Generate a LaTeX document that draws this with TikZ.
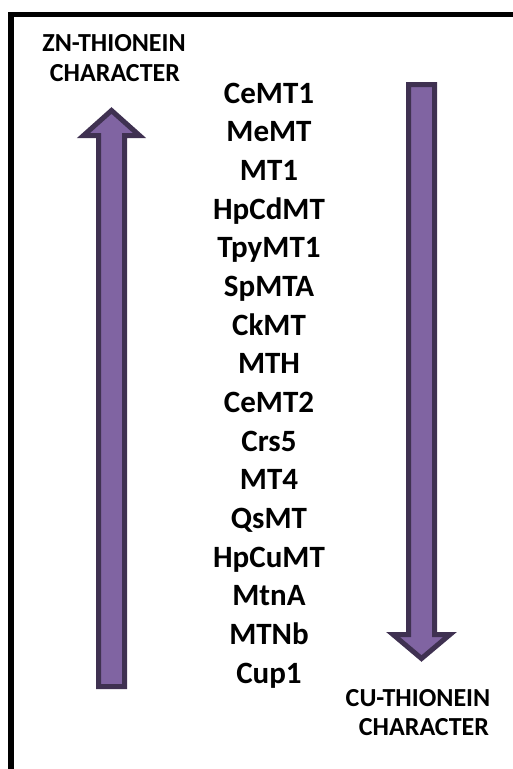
\documentclass[tikz,border=0pt]{standalone}
\usepackage{fontspec}
\setmainfont{Carlito}
\definecolor{arrowfill}{HTML}{8064A2}
\definecolor{arrowline}{HTML}{3F3151}
\begin{document}
\begin{tikzpicture}[x=1pt,y=-1pt,
  bigarrow/.style={fill=arrowfill,draw=arrowline,line width=5pt,line join=miter},
  item/.style={anchor=base,font=\bfseries\fontsize{31}{31}\selectfont,inner sep=0pt},
  caption/.style={anchor=base,font=\bfseries\fontsize{26}{26}\selectfont,inner sep=0pt}]
\useasboundingbox (0,0) rectangle (513,769);
% frame: top and left edges only
\draw[line width=5.5pt] (11,769) -- (11,14.5) -- (513,14.5);
% upward arrow (zinc character)
\draw[bigarrow] (98.5,686.5) -- (98.5,135.5) -- (83.5,135.5) -- (111.5,110.5)
  -- (139.5,135.5) -- (124.5,135.5) -- (124.5,686.5) -- cycle;
% downward arrow (copper character)
\draw[bigarrow] (408.5,84.5) -- (434.5,84.5) -- (434.5,634.5) -- (450,634.5)
  -- (421.5,658.5) -- (393,634.5) -- (408.5,634.5) -- cycle;
% metallothionein list
\foreach \name [count=\i from 0] in {CeMT1,MeMT,MT1,HpCdMT,TpyMT1,SpMTA,CkMT,MTH,CeMT2,Crs5,MT4,QsMT,HpCuMT,MtnA,MTNb,Cup1}
  \node[item] (m\i) at (269,{103+38.67*\i}) {\name};
% end labels
\node[caption] (zn1) at (114,51.5) {ZN-THIONEIN};
\node[caption] (zn2) at (115,81.7) {CHARACTER};
\node[caption] (cu1) at (418,706.7) {CU-THIONEIN};
\node[caption] (cu2) at (424,735) {CHARACTER};
\end{tikzpicture}
\end{document}
